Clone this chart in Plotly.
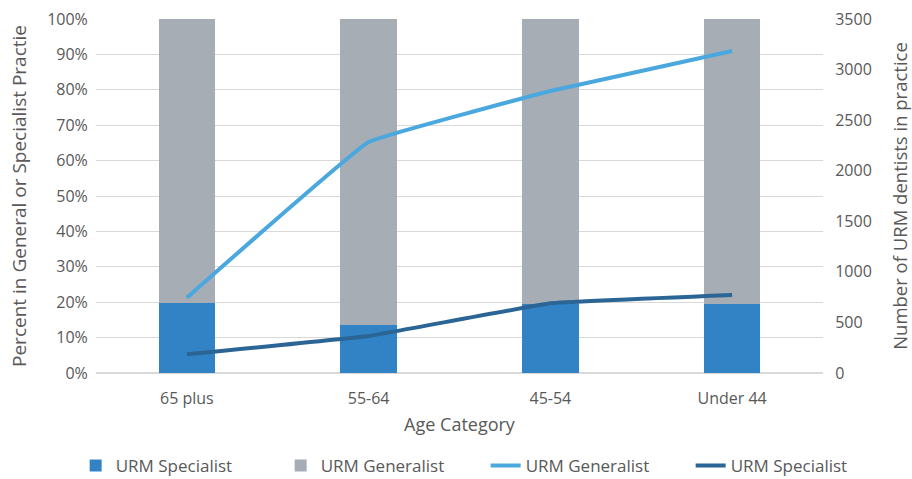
import plotly.graph_objects as go

categories = ["65 plus", "55-64", "45-54", "Under 44"]
spec_pct = [0.198, 0.136, 0.196, 0.195]
gen_pct = [1 - v for v in spec_pct]
gen_count = [745, 2284, 2788, 3184]
spec_count = [185, 366, 689, 771]

FONT = "Open Sans"
TXT = "#595959"
CLEAR = "rgba(0,0,0,0)"

fig = go.Figure()
fig.add_trace(go.Bar(x=categories, y=spec_pct, name="URM Specialist",
                     marker_color="#3283C5", marker_line_width=0))
fig.add_trace(go.Bar(x=categories, y=gen_pct, name="URM Generalist",
                     marker_color="#A7ADB4", marker_line_width=0))
fig.add_trace(go.Scatter(x=categories, y=gen_count, name="URM Generalist", yaxis="y2",
                         mode="lines", line=dict(color="#4AA8DE", width=4, shape="spline", smoothing=0.2)))
fig.add_trace(go.Scatter(x=categories, y=spec_count, name="URM Specialist", yaxis="y2",
                         mode="lines", line=dict(color="#2A6595", width=4, shape="spline", smoothing=0.2)))

# plot area: top 19px, x-axis at 373px -> domain inside a 460px tall paper area
fig.update_layout(
    width=912, height=479,
    margin=dict(l=96, r=89, t=19, b=0, autoexpand=False),
    barmode="stack", bargap=0.69,
    plot_bgcolor="white", paper_bgcolor="white",
    font=dict(family=FONT, size=16, color=TXT),
    xaxis=dict(title=dict(text="Age Category", font=dict(size=18, color=TXT), standoff=10),
               showgrid=False, showline=False, ticks="outside", ticklen=11, tickcolor=CLEAR,
               tickfont=dict(size=16), anchor="y"),
    yaxis=dict(domain=[0.2304, 1],
               title=dict(text="Percent in General or Specialist Practie", font=dict(size=19, color=TXT), standoff=15),
               range=[0, 1], tickformat=".0%", dtick=0.1, gridcolor="#D9D9D9", gridwidth=1,
               zeroline=True, zerolinecolor="#D9D9D9", zerolinewidth=2, showline=False,
               ticks="outside", ticklen=4, tickcolor=CLEAR, tickfont=dict(size=16)),
    yaxis2=dict(title=dict(text="Number of URM dentists in practice", font=dict(size=18.5, color=TXT), standoff=23),
                overlaying="y", side="right", range=[0, 3500], dtick=500, showgrid=False,
                zeroline=False, showline=False, ticks="outside", ticklen=8, tickcolor=CLEAR,
                tickfont=dict(size=16)),
    legend=dict(orientation="h", x=-0.028, xanchor="left", y=-0.011, yanchor="bottom",
                font=dict(size=17, color=TXT), traceorder="normal", bgcolor=CLEAR,
                entrywidth=160, entrywidthmode="pixels", tracegroupgap=0),
)

fig.write_html("out.html")
